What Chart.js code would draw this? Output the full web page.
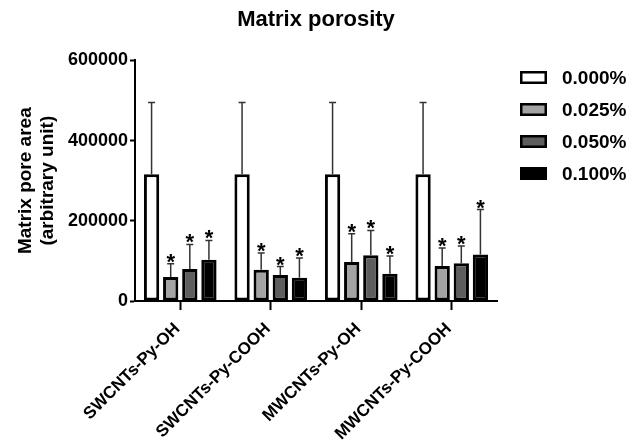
<!DOCTYPE html>
<html><head><meta charset="utf-8">
<script src="https://cdn.jsdelivr.net/npm/chart.js@4/dist/chart.umd.min.js"></script>
<style>html,body{margin:0;padding:0;background:#fff}#wrap{width:631px;height:442px}</style>
</head><body><div id="wrap"><canvas id="c" width="631" height="442"></canvas></div>
<script>
const categories = ['SWCNTs-Py-OH', 'SWCNTs-Py-COOH', 'MWCNTs-Py-OH', 'MWCNTs-Py-COOH'];
const seriesLabels = ['0.000%', '0.025%', '0.050%', '0.100%'];
const values000 = [316000, 316000, 316000, 316000];
const values025 = [60000, 78000, 97000, 87000];
const values050 = [80000, 65000, 114000, 94000];
const values100 = [103000, 58000, 68000, 116000];
const errors000 = [179000, 179000, 179000, 179000];
const errors025 = [33000, 42000, 71000, 45000];
const errors050 = [61000, 21000, 62000, 43000];
const errors100 = [48000, 49000, 44000, 112000];
const significant000 = [false, false, false, false];
const significant025 = [true, true, true, true];
const significant050 = [true, true, true, true];
const significant100 = [true, true, true, true];
const yTicks = [0, 200000, 400000, 600000];

const FONT = 'Liberation Sans, Arial, Helvetica, sans-serif';
const fills = ['#ffffff', '#a3a3a3', '#5e5e5e', '#000000'];
const allValues = [values000, values025, values050, values100];
const allErrors = [errors000, errors025, errors050, errors100];
const allSig = [significant000, significant025, significant050, significant100];

const datasets = seriesLabels.map((lab, i) => ({
  label: lab,
  data: allValues[i],
  errors: allErrors[i],
  significant: allSig[i],
  backgroundColor: fills[i],
  borderColor: '#000',
  borderWidth: 3,
  borderSkipped: false,
  categoryPercentage: 0.845,
  barPercentage: 0.8
}));

const errorBarPlugin = {
  id: 'errorBars',
  afterDatasetsDraw(chart) {
    const ctx = chart.ctx;
    const ys = chart.scales.y;
    ctx.save();
    chart.data.datasets.forEach((ds, i) => {
      const meta = chart.getDatasetMeta(i);
      meta.data.forEach((bar, j) => {
        const top = ys.getPixelForValue(ds.data[j] + ds.errors[j]);
        ctx.strokeStyle = '#333';
        ctx.lineWidth = 1.5;
        ctx.beginPath();
        ctx.moveTo(bar.x, bar.y);
        ctx.lineTo(bar.x, top);
        ctx.moveTo(bar.x - 3.5, top);
        ctx.lineTo(bar.x + 3.5, top);
        ctx.stroke();
        if (ds.significant[j]) {
          ctx.fillStyle = '#000';
          ctx.font = 'bold 22px ' + FONT;
          ctx.textAlign = 'center';
          ctx.textBaseline = 'alphabetic';
          ctx.fillText('*', bar.x, top + 5);
        }
      });
    });
    ctx.restore();
  }
};

const legendPlugin = {
  id: 'sideLegend',
  afterDraw(chart, args, opts) {
    const ctx = chart.ctx;
    ctx.save();
    chart.data.datasets.forEach((ds, i) => {
      const cy = opts.y + i * opts.pitch;
      ctx.fillStyle = ds.backgroundColor;
      ctx.strokeStyle = ds.borderColor;
      ctx.lineWidth = 2.5;
      ctx.beginPath();
      ctx.rect(opts.x + 1.25, cy - opts.boxH / 2 + 1.25, opts.boxW - 2.5, opts.boxH - 2.5);
      ctx.fill();
      ctx.stroke();
      ctx.fillStyle = '#000';
      ctx.font = 'bold 19px ' + FONT;
      ctx.textAlign = 'left';
      ctx.textBaseline = 'middle';
      ctx.fillText(ds.label, opts.textX, cy + 1);
    });
    ctx.restore();
  }
};

new Chart(document.getElementById('c'), {
  type: 'bar',
  data: { labels: categories, datasets },
  plugins: [errorBarPlugin, legendPlugin],
  options: {
    responsive: false,
    animation: false,
    devicePixelRatio: 1,
    layout: { padding: { left: 0, right: 134, top: 0, bottom: 0 } },
    plugins: {
      legend: { display: false },
      tooltip: { enabled: false },
      title: {
        display: true, text: 'Matrix porosity', color: '#000', fullSize: false,
        font: { family: FONT, size: 22, weight: 'bold' },
        padding: { top: 7, bottom: 27 }
      },
      sideLegend: { x: 520, y: 77.5, pitch: 32, boxW: 27, boxH: 13, textX: 562 }
    },
    scales: {
      x: {
        offset: true,
        grid: { display: true, drawOnChartArea: false, offset: false, drawTicks: true, tickLength: 9, tickWidth: 2, tickColor: '#000' },
        border: { display: true, color: '#000', width: 2 },
        ticks: { color: '#000', font: { family: FONT, size: 17, weight: 'bold' }, maxRotation: 45, minRotation: 45, padding: 9, labelOffset: -3, autoSkip: false },
        afterFit: s => { s.height = 141; }
      },
      y: {
        min: 0, max: 600000,
        afterBuildTicks: s => { s.ticks = yTicks.map(v => ({ value: v })); },
        grid: { drawOnChartArea: false, drawTicks: true, tickLength: 5, tickWidth: 2, tickColor: '#000' },
        border: { display: true, color: '#000', width: 2 },
        ticks: { color: '#000', font: { family: FONT, size: 18, weight: 'bold' }, padding: 2, callback: v => String(v) },
        title: {
          display: true, text: ['Matrix pore area', '(arbitrary unit)'], color: '#000',
          font: { family: FONT, size: 19, weight: 'bold' }, padding: { top: 14, bottom: 0 }
        },
        afterFit: s => { s.width = 135; }
      }
    }
  }
});
</script></body></html>
